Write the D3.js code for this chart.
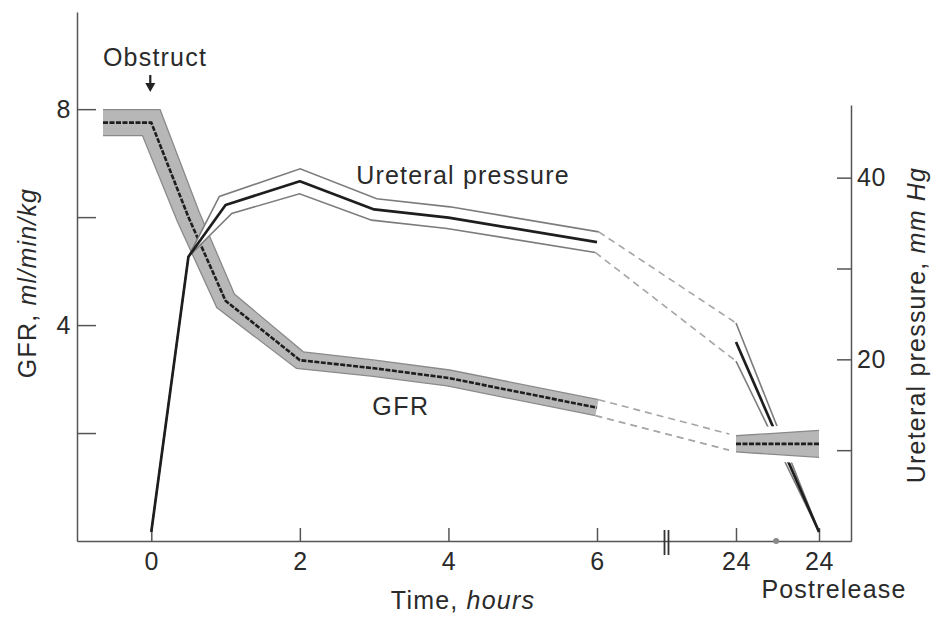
<!DOCTYPE html>
<html><head><meta charset="utf-8">
<script src="https://cdn.jsdelivr.net/npm/d3@7"></script>
<style>body{margin:0;background:#fff} svg{display:block}</style>
</head><body>
<svg id="c" width="931" height="617"></svg>
<script>
// ---------------- data ----------------
const gfrTimes = [-0.65, 0, 0.5, 1, 2, 3, 4, 6];
const gfrMean  = [7.75, 7.75, 6.0, 4.45, 3.35, 3.2, 3.02, 2.47];
const gfrSE    = [0.24, 0.24, 0.22, 0.2, 0.16, 0.15, 0.15, 0.15];
const gfrPostTimes = [24, 48];
const gfrPostMean  = [1.8, 1.8];
const gfrPostSE    = [0.15, 0.25];

const presTimes = [0, 0.5, 1, 2, 3, 4, 6];
const presMean  = [1, 31.3, 37, 39.6, 36.5, 35.6, 32.9];
const presSE    = [0, 0, 1.1, 1.3, 1.2, 1.2, 1.15];
const presPostTimes = [24, 48];
const presPostMean  = [21.9, 1];
const presPostSE    = [2.1, 0];

const xTickValues = [0, 2, 4, 6, 24, 48];
const xTickLabels = ["0", "2", "4", "6", "24", "24"];
const gfrTicks = [2, 4, 6, 8];
const gfrTickLabels = ["", "4", "", "8"];
const presTicks = [10, 20, 30, 40];
const presTickLabels = ["", "20", "", "40"];
const breakAt = 15;      // axis break position (hours scale)
const releaseDot = 35.6; // small dot on the axis

// ---------------- layout ----------------
const svg = d3.select("#c");
const FONT = "'Liberation Sans', Arial, Helvetica, sans-serif";
const TXT = "#2a2a2a";
const AX = "#555";

const x = d3.scaleLinear().domain([-1, 6, 24, 57.25]).range([77, 597, 736, 851]);
const yG = d3.scaleLinear().domain([0, 9.8]).range([541, 12]);
const yP = d3.scaleLinear().domain([0, 48]).range([541, 105]);

function styleAxis(g){
  g.attr("font-family", FONT).attr("font-size", 25);
  g.select(".domain").attr("stroke", AX).attr("stroke-width", 1.5);
  g.selectAll(".tick line").attr("stroke", AX).attr("stroke-width", 1.5);
  g.selectAll(".tick text").attr("fill", TXT).style("letter-spacing", "0.5px");
}

// left axis
svg.append("g").attr("transform", "translate(77,0)")
  .call(d3.axisLeft(yG).tickValues(gfrTicks).tickSizeInner(-19).tickSizeOuter(0).tickPadding(6)
        .tickFormat((d, i) => gfrTickLabels[i]))
  .call(styleAxis);

// right axis
svg.append("g").attr("transform", "translate(851,0)")
  .call(d3.axisRight(yP).tickValues(presTicks).tickSizeInner(-14).tickSizeOuter(0).tickPadding(6)
        .tickFormat((d, i) => presTickLabels[i]))
  .call(styleAxis);

// bottom axis
svg.append("g").attr("transform", "translate(0,541)")
  .call(d3.axisBottom(x).tickValues(xTickValues).tickSizeInner(-13).tickSizeOuter(0).tickPadding(11)
        .tickFormat((d, i) => xTickLabels[i]))
  .call(styleAxis);

// axis break and dot
const bx = x(breakAt);
[-2, 2].forEach(o => svg.append("line").attr("x1", bx + o).attr("x2", bx + o)
  .attr("y1", 530).attr("y2", 555).attr("stroke", "#333").attr("stroke-width", 1.8));
svg.append("circle").attr("cx", x(releaseDot)).attr("cy", 541).attr("r", 3).attr("fill", "#888");

// ---------------- helpers ----------------
function ribbon(pts){
  const n = pts.length, segN = [], up = [], lo = [];
  for (let i = 0; i < n - 1; i++){
    const dx = pts[i+1].x - pts[i].x, dy = pts[i+1].y - pts[i].y, L = Math.hypot(dx, dy);
    segN.push([dy / L, -dx / L]);
  }
  for (let i = 0; i < n; i++){
    let nx, ny, s = 1;
    if (i === 0) [nx, ny] = segN[0];
    else if (i === n - 1) [nx, ny] = segN[n - 2];
    else {
      const a = segN[i-1], b = segN[i];
      nx = a[0] + b[0]; ny = a[1] + b[1];
      const L = Math.hypot(nx, ny); nx /= L; ny /= L;
      s = 1 / Math.max(0.35, nx * a[0] + ny * a[1]);
    }
    const w = pts[i].w * s;
    up.push([pts[i].x + nx * w, pts[i].y + ny * w]);
    lo.push([pts[i].x - nx * w, pts[i].y - ny * w]);
  }
  return {up, lo, c: pts.map(p => [p.x, p.y])};
}
function vband(pts){
  return {up: pts.map(p => [p.x, p.y - p.w]), lo: pts.map(p => [p.x, p.y + p.w]), c: pts.map(p => [p.x, p.y])};
}
const line = d3.line();
function poly(b){ return line(b.up.concat(b.lo.slice().reverse())) + "Z"; }

function pts(times, means, ses, yS){
  return times.map((t, i) => ({x: x(t), y: yS(means[i]), w: Math.abs(yS(means[i] + ses[i]) - yS(means[i]))}));
}

const gMain = ribbon(pts(gfrTimes, gfrMean, gfrSE, yG));
const gPost = vband(pts(gfrPostTimes, gfrPostMean, gfrPostSE, yG));
const pMain = ribbon(pts(presTimes, presMean, presSE, yP));
const pPost = vband(pts(presPostTimes, presPostMean, presPostSE, yP));

const GFILL = "#b7b7b7", GEDGE = "#8a8a8a", CEN = "#1e1e1e";

function drawGfr(b, halo){
  if (halo) svg.append("path").attr("d", poly(b)).attr("fill", "#fff").attr("stroke", "#fff").attr("stroke-width", 14).attr("stroke-linejoin", "round");
  svg.append("path").attr("d", poly(b)).attr("fill", GFILL);
  [b.up, b.lo].forEach(e => svg.append("path").attr("d", line(e)).attr("fill", "none")
    .attr("stroke", GEDGE).attr("stroke-width", 1.3));
  svg.append("path").attr("d", line(b.c)).attr("fill", "none").attr("stroke", CEN)
    .attr("stroke-width", 2.6).attr("stroke-dasharray", "5,1.5");
}
function drawPres(b){
  svg.append("path").attr("d", poly(b)).attr("fill", "#fff");
  [b.up, b.lo].forEach(e => svg.append("path").attr("d", line(e)).attr("fill", "none")
    .attr("stroke", "#7c7c7c").attr("stroke-width", 1.6));
  svg.append("path").attr("d", line(b.c)).attr("fill", "none").attr("stroke", CEN)
    .attr("stroke-width", 2.7).attr("stroke-linejoin", "round");
}
function dashGap(a, b){
  [["up"], ["lo"]].forEach(([k]) => {
    const p0 = a[k][a[k].length - 1], p1 = b[k][0];
    svg.append("line").attr("x1", p0[0]).attr("y1", p0[1]).attr("x2", p1[0]).attr("y2", p1[1])
      .attr("stroke", "#a5a5a5").attr("stroke-width", 1.6).attr("stroke-dasharray", "7,5");
  });
}

drawGfr(gMain, false);
drawPres(pMain);
dashGap(gMain, gPost);
dashGap(pMain, pPost);
drawPres(pPost);
drawGfr(gPost, true);

// ---------------- text ----------------
function txt(xp, yp, parts, opts = {}){
  const t = svg.append("text").attr("x", xp).attr("y", yp).attr("font-family", FONT)
    .attr("font-size", 25).attr("fill", TXT).attr("text-anchor", opts.anchor || "middle")
    .style("letter-spacing", (opts.ls ?? 1.2) + "px");
  if (opts.rot) t.attr("transform", `rotate(${opts.rot},${xp},${yp})`);
  parts.forEach(p => t.append("tspan").text(p[0]).attr("font-style", p[1] ? "italic" : "normal"));
  return t;
}
txt(155, 66, [["Obstruct"]]);
txt(463, 184, [["Ureteral pressure"]]);
txt(401, 415, [["GFR"]], {ls: 1.5});
txt(463, 609, [["Time, "], ["hours", true]]);
txt(834, 598, [["Postrelease"]]);
txt(36, 283, [["GFR, "], ["ml/min/kg", true]], {rot: -90});
txt(925, 325, [["Ureteral pressure, "], ["mm Hg", true]], {rot: -90});

// obstruct arrow
const ax0 = x(0) - 1;
svg.append("line").attr("x1", ax0).attr("x2", ax0).attr("y1", 75).attr("y2", 85).attr("stroke", "#222").attr("stroke-width", 2.2);
svg.append("path").attr("d", `M${ax0-5},83 L${ax0+5},83 L${ax0},92 Z`).attr("fill", "#222");
</script>
</body></html>
